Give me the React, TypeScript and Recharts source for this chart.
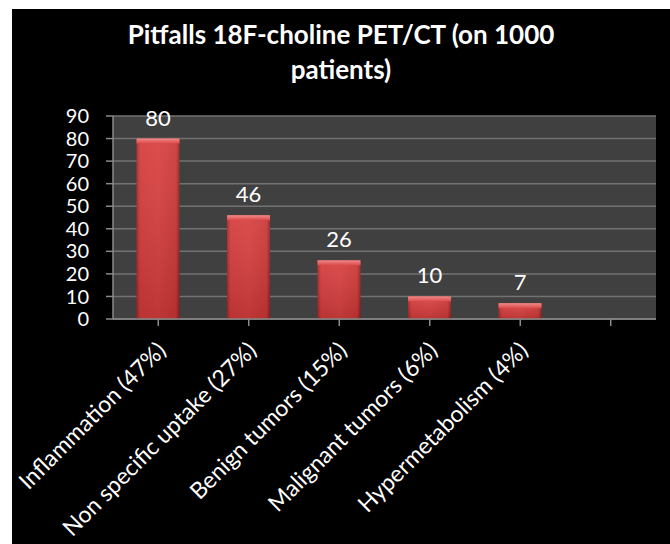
import { BarChart, Bar, XAxis, YAxis, CartesianGrid, LabelList } from "recharts";

const categories = [
  "Inflammation (47%)",
  "Non specific uptake (27%)",
  "Benign tumors (15%)",
  "Malignant tumors (6%)",
  "Hypermetabolism (4%)",
  "",
];
const pitfallCounts: (number | null)[] = [80, 46, 26, 10, 7, null];
const yTicks = [0, 10, 20, 30, 40, 50, 60, 70, 80, 90];

const chartData = categories.map((name, i) => ({ name, count: pitfallCounts[i] }));

const FONT = "Lato, 'Open Sans', sans-serif";

function GlossyBar(props: any) {
  const { x, y, width, height } = props;
  if (!height || height <= 0) return null;
  const bevel = Math.min(5, height);
  return (
    <g>
      <rect x={x} y={y} width={width} height={height} fill="url(#barBody)" />
      <rect x={x} y={y} width={width} height={height} fill="url(#barShade)" />
      <rect x={x} y={y} width={width} height={bevel} fill="url(#barTop)" />
    </g>
  );
}

function SlantedTick(props: any) {
  const { x, y, payload } = props;
  if (!payload.value) return null;
  return (
    <g transform={`translate(${x + 9},${y + 24})`}>
      <text
        transform="rotate(-45)"
        textAnchor="end"
        fill="#ffffff"
        fontSize={23}
        fontFamily={FONT}
      >
        {payload.value}
      </text>
    </g>
  );
}

export default function App() {
  return (
    <div style={{ position: "absolute", left: 0, top: 0, width: 670, height: 544, background: "#ffffff" }}>
      <div style={{ position: "absolute", left: 12, top: 9, right: 0, bottom: 0, background: "#000000" }} />
      <div
        style={{
          position: "absolute",
          left: 12,
          right: 0,
          top: 17,
          textAlign: "center",
          color: "#ffffff",
          fontFamily: FONT,
          fontWeight: 700,
          fontSize: 26,
          lineHeight: "35px",
        }}
      >
        Pitfalls 18F-choline PET/CT (on 1000
        <br />
        patients)
      </div>
      <div style={{ position: "absolute", left: 0, top: 0 }}>
        <BarChart
          width={670}
          height={544}
          data={chartData}
          margin={{ top: 116, right: 14, left: 53, bottom: 125 }}
          barCategoryGap="26%"
        >
          <defs>
            <linearGradient id="barBody" x1="0" y1="0" x2="1" y2="0">
              <stop offset="0%" stopColor="#a82424" />
              <stop offset="8%" stopColor="#d23a3a" />
              <stop offset="50%" stopColor="#d83e3e" />
              <stop offset="92%" stopColor="#cb3636" />
              <stop offset="100%" stopColor="#931f1f" />
            </linearGradient>
            <linearGradient id="barShade" x1="0" y1="0" x2="0" y2="1">
              <stop offset="0%" stopColor="#ffffff" stopOpacity={0.08} />
              <stop offset="100%" stopColor="#000000" stopOpacity={0.12} />
            </linearGradient>
            <linearGradient id="barTop" x1="0" y1="0" x2="0" y2="1">
              <stop offset="0%" stopColor="#f08a8a" />
              <stop offset="100%" stopColor="#dc4848" />
            </linearGradient>
          </defs>
          <CartesianGrid vertical={false} stroke="#727272" strokeWidth={1.5} fill="#404040" />
          <XAxis
            dataKey="name"
            interval={0}
            height={100}
            tickSize={7}
            tickMargin={2}
            axisLine={{ stroke: "#8a8a8a", strokeWidth: 1.5 }}
            tickLine={{ stroke: "#8a8a8a", strokeWidth: 1.5 }}
            tick={<SlantedTick />}
          />
          <YAxis
            domain={[0, 90]}
            ticks={yTicks}
            interval={0}
            width={60}
            tickSize={7}
            tickMargin={17}
            axisLine={{ stroke: "#8a8a8a", strokeWidth: 1.5 }}
            tickLine={{ stroke: "#8a8a8a", strokeWidth: 1.5 }}
            tick={{ fill: "#ffffff", fontSize: 20, fontFamily: FONT }}
          />
          <Bar dataKey="count" shape={<GlossyBar />} isAnimationActive={false}>
            <LabelList dataKey="count" position="top" offset={13} fill="#ffffff" fontSize={22} fontFamily={FONT} />
          </Bar>
        </BarChart>
      </div>
    </div>
  );
}
